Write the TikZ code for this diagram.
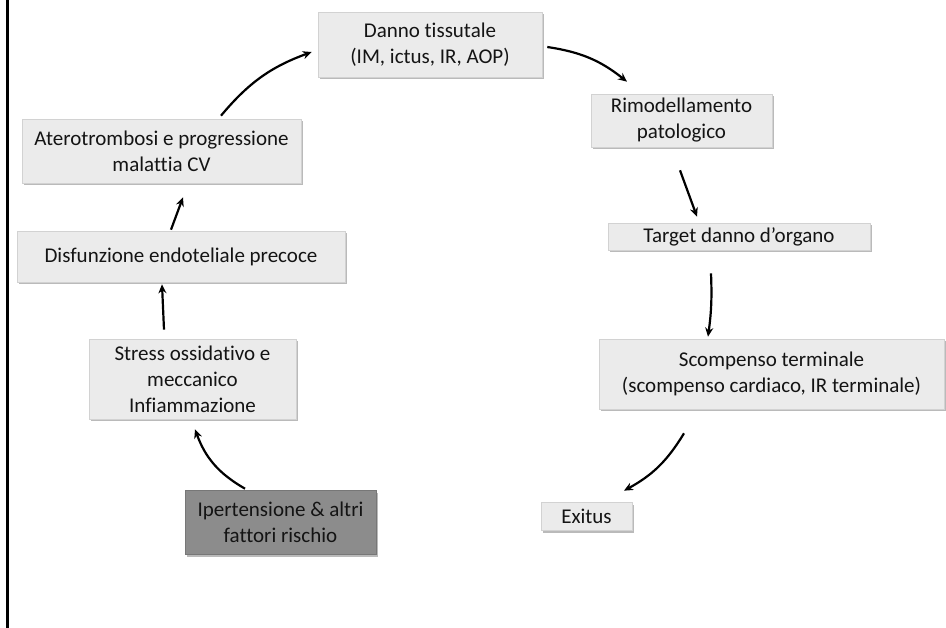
\documentclass[tikz,border=0pt]{standalone}
\usepackage{fontspec}
\setmainfont[Ligatures={NoCommon}]{Carlito}
\usetikzlibrary{arrows.meta,shadows}
\definecolor{boxfill}{HTML}{EBEBEB}
\definecolor{boxline}{HTML}{D2D2D2}
\definecolor{darkfill}{HTML}{8C8C8C}
\begin{document}
\begin{tikzpicture}[x=1pt,y=-1pt,
  box/.style={rectangle, fill=boxfill, draw=boxline, line width=0.6pt,
    align=center, inner sep=0pt, text=black!92,
    font=\fontsize{21}{26}\selectfont,
    drop shadow={shadow xshift=1.5pt, shadow yshift=-2.5pt, opacity=0.45, fill=black!60}},
  darkbox/.style={box, fill=darkfill, draw=darkfill!85!black},
  arr/.style={line width=2.2pt, -{Stealth[length=9pt,width=8pt]}}]
\useasboundingbox (0,0) rectangle (946,628);
\fill[white] (0,0) rectangle (946,628);
\draw[line width=2.5pt] (7.5,0) -- (7.5,628);

\node[box, minimum width=224pt, minimum height=65pt] (danno) at (430,44.5) {Danno tissutale\\(IM, ictus, IR, AOP)};
\node[box, minimum width=181pt, minimum height=53pt] (rimod) at (681.5,120.5) {Rimodellamento\\patologico};
\node[box, minimum width=262pt, minimum height=27pt] (target) at (739,236.5) {Target danno d’organo};
\node[box, minimum width=345pt, minimum height=70pt] (scomp) at (771.5,374) {Scompenso terminale\\(scompenso cardiaco, IR terminale)};
\node[box, minimum width=91pt, minimum height=28pt] (exitus) at (586.5,516) {Exitus};
\node[box, minimum width=279pt, minimum height=64pt] (ater) at (161.5,151) {Aterotrombosi e progressione\\malattia CV};
\node[box, minimum width=328pt, minimum height=51pt] (disf) at (181,256.5) {Disfunzione endoteliale precoce};
\node[box, minimum width=207pt, minimum height=80pt] (stress) at (192.5,379) {Stress ossidativo e\\meccanico\\Infiammazione};
\node[darkbox, minimum width=191pt, minimum height=64pt] (iper) at (280.5,522) {Ipertensione \& altri\\fattori rischio};

\draw[arr] ([shift={(-35.5,-1)}]iper.north) to[bend left=20] ([shift={(2.5,10)}]stress.south);
\draw[arr] ([shift={(-28.5,-9)}]stress.north) -- ([shift={(-19,2)}]disf.south);
\draw[arr] ([shift={(-10,-1)}]disf.north) -- ([shift={(21.5,14)}]ater.south);
\draw[arr] ([shift={(59.5,-3)}]ater.north) to[bend left=15] ([shift={(-6,7.5)}]danno.west);
\draw[arr] ([shift={(5,2.5)}]danno.east) to[bend left=15] ([shift={(-54.5,-12)}]rimod.north);
\draw[arr] ([shift={(-1.5,23)}]rimod.south) -- ([shift={(-42,-6)}]target.north);
\draw[arr] ([shift={(-28,23)}]target.south) to[bend left=5] ([shift={(-63.5,-2)}]scomp.north);
\draw[arr] ([shift={(-87.5,24)}]scomp.south) to[bend left=15] ([shift={(37.5,-11)}]exitus.north);
\end{tikzpicture}
\end{document}
